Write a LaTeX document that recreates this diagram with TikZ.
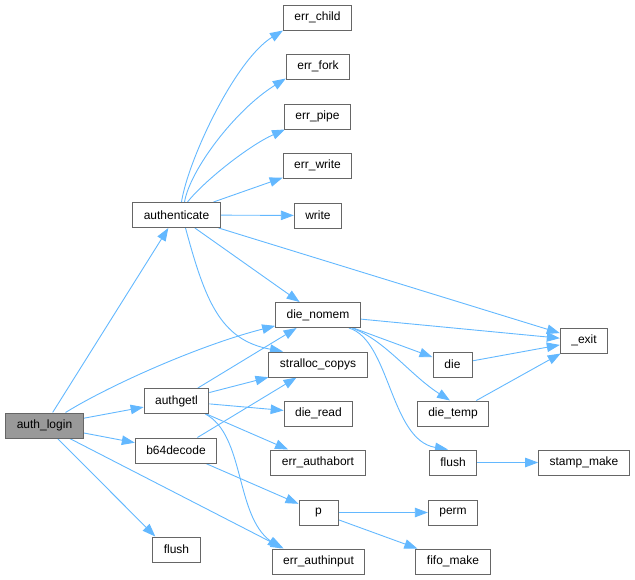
\documentclass[tikz,border=0pt]{standalone}
\usepackage{fontspec}
\setmainfont{Liberation Sans}
\usepackage{tikz}
\definecolor{white}{rgb}{1.0, 1.0, 1.0}
\definecolor{edgeblue}{RGB}{99,184,255}
\definecolor{boxgray}{RGB}{102,102,102}
\definecolor{rootgray}{RGB}{153,153,153}
\usetikzlibrary{arrows.meta}
\pgfdeclarelayer{edgelayer}
\pgfdeclarelayer{nodelayer}
\pgfsetlayers{edgelayer,nodelayer,main}
\tikzstyle{func}=[rectangle,fill=white,draw=boxgray,line width=1pt,minimum height=25pt,minimum width=39pt,inner xsep=11pt,inner ysep=0pt,font=\fontsize{12}{14}\selectfont]
\tikzstyle{call}=[-{Triangle[length=13pt,width=9.5pt]},draw=edgeblue,line width=0.9pt]

\begin{document}
\begin{tikzpicture}[x=1pt,y=-1pt]
        \useasboundingbox (0,0) rectangle (635,579);
        \begin{pgfonlayer}{nodelayer}
            \node [style = func, fill=rootgray] (login) at (44.5, 425.5) {auth\_login};
            \node [style = func] (authn) at (176.5, 215) {authenticate};
            \node [style = func] (getl) at (176.5, 401) {authgetl};
            \node [style = func] (b64) at (176, 450.5) {b64decode};
            \node [style = func] (flushl) at (176.5, 549.5) {flush};
            \node [style = func] (child) at (317.5, 17.5) {err\_child};
            \node [style = func] (fork) at (318, 66.5) {err\_fork};
            \node [style = func] (pipe) at (317.5, 116.5) {err\_pipe};
            \node [style = func] (ewrite) at (317.5, 165.5) {err\_write};
            \node [style = func] (write) at (318, 215.5) {write};
            \node [style = func] (nomem) at (318, 315) {die\_nomem};
            \node [style = func] (copys) at (318, 364.5) {stralloc\_copys};
            \node [style = func] (dread) at (318.5, 413.5) {die\_read};
            \node [style = func] (abort) at (318, 462.5) {err\_authabort};
            \node [style = func] (p) at (318.5, 512.5) {p};
            \node [style = func] (input) at (318.5, 561.5) {err\_authinput};
            \node [style = func] (die) at (452.5, 364.5) {die};
            \node [style = func] (temp) at (453, 413.5) {die\_temp};
            \node [style = func] (flushr) at (453, 462.5) {flush};
            \node [style = func] (perm) at (453, 512.5) {perm};
            \node [style = func] (fifo) at (453, 561.5) {fifo\_make};
            \node [style = func] (exit) at (584, 340.5) {\_exit};
            \node [style = func] (stamp) at (584, 462.5) {stamp\_make};
        \end{pgfonlayer}

        \begin{pgfonlayer}{edgelayer}
            \draw [style = call] (login) to (authn);
            \draw [style = call] (login) .. controls (110, 385) and (200, 345) .. (nomem);
            \draw [style = call] (login) to (getl);
            \draw [style = call] (login) to (b64);
            \draw [style = call] (login) to ([xshift=3pt]flushl.north west);
            \draw [style = call] (login) to ([xshift=12pt]input.north west);
            \draw [style = call] ([xshift=5pt]authn.north) .. controls (188, 160) and (235, 60) .. (child.south west);
            \draw [style = call] ([xshift=8pt]authn.north) .. controls (190, 170) and (235, 110) .. ([yshift=1pt]fork.south west);
            \draw [style = call] ([xshift=11pt]authn.north) .. controls (205, 180) and (250, 145) .. ([xshift=1pt]pipe.south west);
            \draw [style = call] (authn) to (ewrite);
            \draw [style = call] (authn) to (write);
            \draw [style = call] (authn) to (exit);
            \draw [style = call] (authn) to (nomem);
            \draw [style = call] ([xshift=9pt]authn.south) .. controls (205, 300) and (220, 340) .. ([xshift=-35pt]copys.north);
            \draw [style = call] (getl) to (nomem);
            \draw [style = call] (getl) to (copys);
            \draw [style = call] (getl) to (dread);
            \draw [style = call] (getl) to (abort);
            \draw [style = call] ([xshift=-4pt]getl.south east) .. controls (245, 435) and (235, 515) .. ([xshift=9pt]input.north west);
            \draw [style = call] (b64) to (copys);
            \draw [style = call] (b64) to (p);
            \draw [style = call] (nomem) to (exit);
            \draw [style = call] (nomem) to (die);
            \draw [style = call] ([xshift=-9pt]nomem.south east) .. controls (385, 340) and (410, 375) .. ([xshift=-3pt]temp.north);
            \draw [style = call] ([xshift=-12pt]nomem.south east) .. controls (390, 340) and (390, 440) .. ([xshift=-5pt]flushr.north);
            \draw [style = call] (die) to (exit);
            \draw [style = call] (temp) to (exit);
            \draw [style = call] (flushr) to (stamp);
            \draw [style = call] (p) to (perm);
            \draw [style = call] (p) to (fifo);
        \end{pgfonlayer}
    \end{tikzpicture}
\end{document}
